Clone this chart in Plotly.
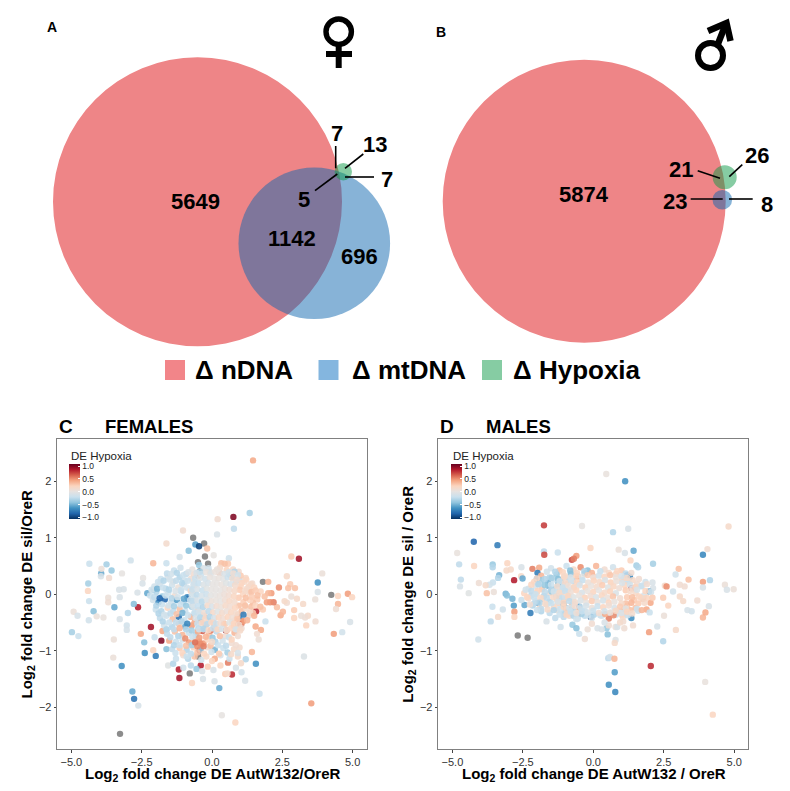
import plotly.graph_objects as go

W, H = 790, 791
FONT = "Liberation Sans"

# ---------- Venn counts ----------
female_counts = ["5649", "1142", "696", "7", "13", "7", "5"]
male_counts = ["5874", "21", "26", "23", "8"]
legend_labels = ["Δ nDNA", "Δ mtDNA", "Δ Hypoxia"]

# ---------- Panel C ----------
fem_out_x = [1.46,1.34,.76,.78,.2,.18,-1.03,-1.62,-.59,-.46,-.17,-.83,-1.15,.06,.6,-2.09,-1.62,-.46,.33,.57,
 .45,.75,.27,-2.89,-4.36,-3.75,-3.57,-3.94,-3.93,-3.95,-3.66,-3.2,-4.4,-4.41,-4.37,-4.21,-4.92,-4.78,-4.38,-4.1,
 -3.86,-4.98,-4.75,-3.69,-3.69,-3.47,-3.28,-3.3,-3.14,-3.28,-3.03,-3.03,-2.99,-3.49,-3.51,-3.21,-2.83,-2.77,-2.62,-2.63,
 -2.78,-2.65,-2.45,-2.47,-2.3,-2.08,-2.53,-2.41,-2.39,-2.0,-2.09,-2.17,-1.8,-1.76,-2.04,-1.62,-1.56,-1.38,-1.18,-1.16,
 -.71,-.32,-.4,-.44,-.38,-.46,-.3,.26,.09,.35,.83,1.69,1.18,1.56,1.2,.71,.47,.57,1.03,1.42,
 .5,1.04,1.08,1.55,1.74,1.6,1.66,1.9,1.57,.95,3.53,3.27,4.33,4.63,4.91,3.35,3.68,3.41,3.31,3.17,
 2.92,2.92,2.44,2.52,2.31,2.66,2.82,3.02,3.24,3.67,3.76,3.76,3.92,4.48,4.48,4.41,4.83,4.98,2.82,3.09,
 2.66,2.78,2.71,2.95,2.38,2.0,2.11,2.0,2.19,2.07,1.95,1.87,1.73,1.61,1.46,1.31,1.43,1.2,1.81,1.46,
 1.28,1.16,2.58]
fem_out_y = [2.37,1.44,1.37,1.16,1.33,1.06,1.13,.9,.88,.85,.81,.77,.66,.69,.64,.55,.55,.52,.55,.54,
 .54,.44,.38,.6,.54,.53,.42,.37,.45,.32,.29,.37,.19,.06,-.12,-.3,-.31,-.38,-.46,-.39,
 -.41,-.67,-.74,-.06,-.14,-.23,-.05,.08,.09,-.44,-.55,-.63,-.33,-.8,-1.12,-1.27,-1.72,-1.85,-1.97,-.23,
 -.17,.03,.29,.19,.02,.08,-.7,-.85,-1.04,-1.09,-.99,-.58,-.82,-.65,-.76,-.97,-1.26,-1.23,-1.33,-1.48,
 -1.57,-1.5,-1.26,-.99,-.88,-.84,-.87,-1.66,-1.54,-2.14,-2.27,-1.76,-1.53,-1.23,-1.15,-1.42,-1.41,-1.21,-1.22,-1.02,
 -.64,-.53,-.47,-.57,-.63,-.7,-.8,-.48,-.3,-.4,-1.93,-1.1,-.7,-.67,-.49,-.55,-.48,-.38,-.41,-.38,
 -.42,-.28,-.37,-.31,-.23,-.15,-.04,-.08,-.17,-.09,.04,.21,.37,-.03,-.17,-.26,.01,-.05,.67,.63,
 .32,.18,.11,.11,.12,.22,.02,.02,-.14,-.14,-.14,-.04,.05,-.09,-.15,.14,.19,.29,-.27,-.33,
 -.39,-.21,-.12]
fem_out_c = [.4,-.35,1.0,-.25,.1,-.1,.1,.12,-.6,-1.0,.3,-.45,-.12,.0,-.15,.35,-.2,-.4,.3,.25,
 .3,.15,.5,-.15,-.2,-.35,-.4,-.55,.05,-.1,.1,.0,-.35,.2,-.2,-.45,.05,-.12,-.15,.03,
 .02,-.35,-.2,.05,.08,-.55,-.1,-.1,-.1,-.1,-.15,-.12,-.3,.05,.05,-.65,-.55,-.8,-.12,.85,
 -.45,-.1,.0,-.1,-.55,-.5,.4,-.45,-.65,-.75,.2,.9,1.0,.4,-.2,-.45,-.05,-.3,.85,.9,
 .2,-.1,.85,1.0,.45,.45,.45,-.55,-.1,.0,.2,-.2,-.1,-.65,-.3,.8,.25,.55,.15,.35,
 1.0,.6,.5,.4,.4,.1,.05,-.2,.8,-.7,.45,-.08,.45,-.15,-.1,.2,.1,.15,.08,.05,
 .2,.25,.4,.35,.3,.1,.05,.15,.15,.05,-.1,-.65,.05,.2,.35,.08,.45,.2,.25,.9,
 .15,.25,.3,.3,.5,.35,.45,.35,.55,.5,.45,.3,.2,.25,.3,.2,.1,.15,.25,.25,
 .1,.15,.15]

fem_mid_x = [-1.35,-1.12,-.92,-.7,-.52,-.3,-.08,.28,.62,.95,
 -1.82,-1.58,-1.38,-1.15,-.96,-.74,-.5,.7,.98,1.15,
 -2.05,-1.86,-1.64,-1.42,-1.2,-1.0,-.8,-.62,1.02,1.24,
 -2.2,-1.98,-1.77,-1.55,-1.33,-1.1,-.88,-.68,1.1,1.33,
 -2.1,-1.9,-1.68,-1.45,-1.25,-1.02,-.85,-.62,1.12,1.35,
 -2.0,-1.8,-1.58,-1.38,-1.15,-.95,-.72,-.5,1.05,1.22,
 -1.85,-1.62,-1.4,-1.18,-.98,-.75,-.5,-.28,.88,1.1,
 -1.7,-1.42,-1.18,-.95,-.72,-.48,-.22,.08,.42,.78,
 -1.6,-1.32,-1.05,-.82,-.58,-.34,-.1,.16,.48,.8,
 -1.52,-1.28,-1.05,-.82,-.62,-.42,-.15,.12,.38,.7,
 -1.42,-1.15,-.9,-.65,-.4,-.15,.1,.4,.78,.98,
 -1.28,-1.02,-.85,-.62,-.38,-.2,.1,.3,.62,.92,
 -1.02,-.75,-.55,-.35,-.15,.05,.3,.55,.85,1.05,
 -1.6,-1.45,-1.25,-1.02,-.84,-.64,-.44,-.12,.18,.52,.8,1.02,
 -1.92,-1.72,-1.5,-1.28,-1.06,-.86,-.64,.85,1.05,1.22,1.38,1.5,
 -2.15,-1.95,-1.75,-1.53,-1.3,-1.1,-.9,-.75,.98,1.18,1.4,1.55,
 -2.05,-1.86,-1.65,-1.44,-1.22,-1.0,-.78,-.6,.95,1.2,1.42,1.62,
 -1.98,-1.78,-1.55,-1.35,-1.12,-.92,-.7,.95,1.18,1.4,1.55,1.72,
 -1.9,-1.7,-1.48,-1.26,-1.05,-.85,-.62,.92,1.12,1.35,1.5,-.4,
 -1.75,-1.52,-1.28,-1.08,-.88,-.62,-.38,-.12,.05,.72,.95,1.25,
 -1.6,-1.35,-1.15,-.92,-.72,-.5,-.3,-.05,.25,.52,.88,1.05,
 -1.48,-1.2,-.95,-.7,-.45,-.22,.02,.28,.6,.7,.92,-1.62,
 -1.35,-1.15,-.92,-.72,-.52,-.3,-.05,.22,.5,.85,-.6,.0,
 -1.3,-1.05,-.75,-.52,-.28,-.02,.25,.55,.68,.92,-.9,.0]
fem_mid_y = [.42,.47,.36,.44,.38,.46,.4,.47,.35,.4,
 .27,.3,.22,.3,.24,.28,.33,.3,.26,.22,
 .14,.18,.1,.16,.12,.18,.1,.16,.14,.1,
 -.02,.04,-.04,.03,-.03,.05,-.05,.02,.0,.03,
 -.1,-.14,-.09,-.15,-.1,-.14,-.08,-.12,-.14,-.1,
 -.27,-.3,-.24,-.3,-.26,-.3,-.22,-.28,-.3,-.25,
 -.42,-.38,-.44,-.4,-.46,-.4,-.45,-.38,-.42,-.48,
 -.55,-.58,-.52,-.57,-.55,-.6,-.54,-.58,-.52,-.56,
 -.7,-.66,-.72,-.68,-.72,-.65,-.7,-.66,-.74,-.68,
 -.82,-.84,-.8,-.85,-.82,-.87,-.8,-.84,-.82,-.86,
 -.97,-.95,-.98,-.94,-.98,-.94,-.98,-.95,-.97,-.94,
 -1.14,-1.08,-1.14,-1.1,-1.16,-1.1,-1.14,-1.08,-1.14,-1.1,
 -1.3,-1.26,-1.32,-1.36,-1.28,-1.34,-1.26,-1.4,-1.3,-1.38,
 .37,.36,.38,.34,.39,.35,.4,.46,.44,.43,.4,.33,
 .22,.24,.26,.24,.2,.24,.22,.22,.2,.26,.18,.12,
 .08,.1,.12,.08,.06,.08,.12,.06,.08,.06,.04,.07,
 -.05,-.07,-.02,-.07,-.05,-.08,-.1,-.06,-.06,-.06,-.05,-.02,
 -.2,-.18,-.2,-.21,-.18,-.2,-.18,-.2,-.2,-.22,-.2,-.22,
 -.34,-.36,-.34,-.35,-.33,-.37,-.34,-.36,-.36,-.33,-.38,-.36,
 -.48,-.5,-.5,-.48,-.52,-.5,-.49,-.47,-.5,-.48,-.52,-.46,
 -.62,-.62,-.6,-.62,-.64,-.66,-.62,-.64,-.62,-.64,-.62,-.6,
 -.76,-.74,-.78,-.75,-.77,-.75,-.77,-.74,-.76,-.8,-.74,-.62,
 -.9,-.9,-.91,-.9,-.92,-.92,-.91,-.9,-.91,-.9,-.85,-.84,
 -1.04,-1.04,-1.05,-1.03,-1.05,-1.02,-1.05,-1.03,-1.06,-1.04,-1.1,-1.18]
fem_mid_c = [-.2,-.15,-.25,.02,-.3,-.1,.05,.15,-.35,.1,
 -.2,-.12,.05,-.3,-.18,.1,.45,-.4,-.2,.15,
 -.15,-.1,-.3,-.15,.05,-.25,-.12,.1,.2,.12,
 -.2,-.3,-.4,-.15,.1,-.25,-.7,.05,.2,.15,
 -.15,-.7,-.85,-.2,-.6,-.3,-.8,-.15,.25,.2,
 -.2,-.3,.2,-.25,.3,-.2,-.35,.25,.3,.15,
 -.25,-.15,.3,-.8,-.2,.35,-.3,.3,.4,.45,
 -.15,-.3,.25,-.55,.45,-.35,.35,.3,.4,.2,
 -.25,.3,.35,-.2,-.3,.65,.3,-.25,.1,.35,
 .4,-.2,-.15,.45,.3,.5,.2,-.3,-.15,.1,
 -.25,.25,-.3,.2,-.4,.1,-.5,-.2,.15,.12,
 -.2,.1,-.3,.3,-.15,.15,.4,-.1,-.2,.15,
 -.15,-.25,-.4,-.1,.25,-.1,.2,.15,-.1,-.15,
 -.25,-.15,-.3,-.2,-.1,.1,-.35,-.15,.05,.2,-.3,.25,
 -.2,-.3,-.15,-.25,-.3,-.2,.05,-.2,.2,.2,.15,.2,
 -.15,-.5,-.2,-.3,-.1,-.2,-.15,.2,.25,.15,.3,.25,
 -.25,-.85,-.2,-.3,-.15,-.55,-.2,-.1,.25,.3,.25,.3,
 -.3,-.2,-.15,-.35,-.2,-.4,-.1,.3,.3,.3,.2,.3,
 -.3,-.15,-.25,.3,-.5,-.2,-.3,.3,-.75,.15,.35,-.2,
 -.3,-.2,-.25,-.3,-.7,.4,.45,-.25,.35,.2,.6,.35,
 -.2,-.25,.35,-.3,-.35,.4,-.2,.55,-.15,.3,-.15,.1,
 -.25,-.3,.5,-.2,.45,.35,-.4,.3,-.2,.2,.1,-.3,
 -.3,-.2,.3,-.35,.5,.55,.3,-.2,-.25,.1,.6,.15,
 -.2,.2,-.25,.3,.2,-.15,.25,-.35,.15,-.12,-.2,.2]

fem_core_x = [-.55,-.38,-.2,-.04,.12,.28,.44,.6,.76,.92,
 -.6,-.42,-.24,-.08,.08,.24,.4,.56,.72,.88,
 -.66,-.48,-.3,-.14,.02,.18,.34,.5,.66,.82,
 -.7,-.52,-.34,-.18,-.02,.14,.3,.46,.62,.8,
 -.72,-.54,-.36,-.2,-.04,.12,.28,.44,.6,.78,
 -.7,-.52,-.36,-.18,-.02,.14,.3,.46,.62,.8,
 -.66,-.5,-.32,-.16,.0,.16,.32,.48,.64,.82,
 -.62,-.46,-.28,-.12,.04,.2,.36,.52,.68,.86,
 -.58,-.42,-.24,-.08,.08,.24,.4,.56,.72,.9,
 -.52,-.36,-.18,-.02,.14,.3,.46,.62,.78,.96,
 -.46,-.3,-.12,.04,.2,.36,.52,.68,.84,1.0]
fem_core_y = [.38,.36,.39,.37,.4,.38,.36,.39,.37,.34,
 .28,.29,.27,.3,.28,.29,.27,.3,.28,.26,
 .18,.19,.17,.2,.18,.19,.17,.2,.18,.16,
 .08,.09,.07,.1,.08,.09,.07,.1,.08,.06,
 -.02,-.01,-.03,.0,-.02,-.01,-.03,.0,-.02,-.04,
 -.12,-.11,-.13,-.1,-.12,-.11,-.13,-.1,-.12,-.14,
 -.22,-.21,-.23,-.2,-.22,-.21,-.23,-.2,-.22,-.24,
 -.32,-.31,-.33,-.3,-.32,-.31,-.33,-.3,-.32,-.34,
 -.42,-.41,-.43,-.4,-.42,-.41,-.43,-.4,-.42,-.44,
 -.52,-.51,-.53,-.5,-.52,-.51,-.53,-.5,-.52,-.54,
 -.62,-.61,-.63,-.6,-.62,-.61,-.63,-.6,-.62,-.64]
fem_core_c = [-.12,-.2,.02,-.08,.03,.02,-.1,-.15,.08,-.15,
 -.2,-.08,-.15,.02,.0,.02,-.03,-.18,.08,.1,
 -.18,-.22,-.08,-.12,.0,.0,.02,-.05,-.1,.12,
 -.22,-.1,-.2,-.05,.0,.0,.0,.03,.08,.15,
 -.15,-.25,-.12,-.18,-.02,.0,.02,.06,.1,.18,
 -.25,-.1,-.28,-.08,.05,.02,.0,.08,.16,.12,
 -.12,-.22,-.3,.12,-.1,.1,.04,.15,.1,.2,
 -.2,-.15,.08,-.25,.15,-.05,.12,.06,.18,.12,
 -.1,-.28,.15,-.3,-.12,.18,.1,.2,.08,.25,
 -.22,.12,-.25,.15,-.2,.1,.22,-.05,.2,.12,
 -.18,-.3,.15,-.22,.18,-.12,.12,.2,-.1,.15]

fem_na_x = [-.67,-.28,-.25,-.5,-.14,-.43,-3.27,-.79,-.49,1.81,4.24]
fem_na_y = [1.0,.9,.67,.57,.54,.41,-2.47,-1.4,-1.1,.22,-.01]

# ---------- Panel D ----------
mal_out_x = [.46,1.13,-1.75,-.4,1.24,.7,4.8,-4.24,-3.4,-4.83,-1.75,-1.26,-1.74,-.1,.9,1.12,1.43,4.05,3.89,-.76,
 -.6,-.69,-4.76,-4.23,-3.57,-3.57,-3.05,-3.08,-2.93,-2.55,-2.16,-1.92,-1.98,-2.0,-3.34,-3.38,-3.56,-3.68,-4.7,-4.73,
 -4.06,-3.82,-4.42,-3.78,-3.53,-3.11,-3.06,-2.81,-2.56,-2.51,-2.87,-2.82,-2.8,-2.8,-2.44,-2.23,-1.98,-3.58,-3.21,-3.38,
 -3.64,-4.08,-1.66,-.3,-1.16,-.74,-.6,-.9,-.09,.47,.51,.79,.79,.76,.53,.59,.75,.76,.55,.78,
 2.04,1.98,2.27,2.48,2.93,2.51,3.97,4.24,3.89,3.98,4.1,3.49,3.34,4.14,3.89,3.89,4.67,4.74,4.98,3.69,
 3.38,3.03,2.92,3.07,3.24,2.83,2.54,2.6,2.12,1.98,2.1,2.12,1.53,1.59,1.2,1.3,1.32,1.35,2.03,1.89,
 2.0,1.77,2.48,2.66,3.07,3.19,1.59,1.35,1.06,1.41]
mal_out_y = [2.13,2.0,1.22,1.21,1.16,1.1,1.2,.93,.87,.73,.76,.74,.7,.82,.79,.73,.77,.8,.7,.61,
 .68,.63,.53,.5,.53,.48,.55,.42,.44,.48,.45,.47,.38,.27,.34,.29,.21,.17,.26,.14,
 .2,.16,.02,.02,.04,.01,-.02,.25,.32,.28,-.08,-.2,-.31,-.4,-.19,-.33,-.15,-.22,-.27,-.4,
 -.48,-.8,-.48,-.79,-.58,-.54,-.6,-.34,-.4,-.6,-.71,-.58,-.81,-.86,-1.13,-1.11,-1.14,-1.38,-1.6,-1.73,
 -1.27,-.67,-.57,-.83,-.63,-.38,-1.55,-2.13,-.41,-.32,-.21,-.3,-.28,.25,.22,.12,.17,.08,.09,-.11,
 .26,.45,.35,.17,.14,.05,.15,.14,.11,.05,.21,.54,.51,.48,.34,.31,.6,.11,-.15,-.27,
 -.32,-.08,-.06,-.2,-.04,-.12,-.29,-.42,-.48,-.55]
mal_out_c = [.02,-.65,.75,.0,-.1,-.3,.15,-.85,-.75,.02,-.25,-.2,.7,.2,.05,-.1,-.55,.1,-.7,.7,
 .45,.55,-.25,.2,-.4,-.3,.2,.15,.15,-.1,.55,.4,-.75,-.75,-.5,-.3,-.2,-.15,-.25,-.1,
 .08,.15,-.05,.3,.05,-.5,-.45,.85,.15,-.55,-.5,-.6,.45,.2,-.55,-.75,-.65,-.2,-.15,.15,
 -.25,-.15,-.1,.08,-.15,-.4,-.45,.4,-.95,-.4,-.45,.05,-.08,.15,-.25,-.15,.35,-.6,-.65,-.7,
 .8,.45,-.12,-.3,.15,.05,.02,.2,.35,.4,-.1,-.15,-.12,-.3,.45,-.1,.05,-.1,.05,.1,
 .3,.3,-.15,.1,.1,-.15,.15,.5,-.1,-.55,-.1,-.35,-.35,-.3,-.8,-.7,.2,.9,.4,.4,
 -.2,.4,.25,.2,.15,.15,-.2,-.65,.1,.1]

mal_mid_x = [-1.5,-1.2,-.95,-.7,-.45,-.2,.1,.4,.7,1.0,
 -1.85,-1.55,-1.3,-1.05,-.8,-.55,-.3,.0,.8,1.1,
 -2.1,-1.85,-1.6,-1.4,-1.15,-.95,-.72,-.5,1.25,1.55,
 -2.3,-2.05,-1.82,-1.6,-1.35,-1.15,-.9,-.7,1.4,1.7,
 -2.45,-2.2,-2.0,-1.75,-1.55,-1.32,-1.1,-.88,1.5,1.8,
 -2.55,-2.3,-2.05,-1.8,-1.55,-1.3,-1.05,-.85,1.45,1.7,
 -2.15,-1.9,-1.65,-1.4,-1.2,-.98,-.75,-.5,1.2,1.5,
 -1.85,-1.55,-1.3,-1.05,-.8,-.55,-.3,.6,.9,1.2,
 -1.35,-1.05,-.85,-.55,-.3,-.05,.25,.55,.8,1.05,
 -.2,.15,.3,.55,.85,1.1,-.5,-.05,.4,.95,
 -1.35,-1.08,-.82,-.58,-.32,-.05,.25,.55,.85,1.15,-1.65,1.35,
 -2.0,-1.72,-1.48,-1.25,-1.02,1.2,1.4,1.62,1.85,-1.92,-.85,1.02,
 -2.2,-1.95,-1.72,-1.5,-1.25,-1.05,1.12,1.3,1.5,1.72,1.9,-2.4,
 -2.2,-1.98,-1.72,-1.48,-1.22,-1.5,1.15,1.3,1.55,1.85,2.05,-2.05,
 -2.35,-2.1,-1.88,-1.65,-1.42,-1.2,1.2,1.38,1.62,1.9,2.1,-.98,
 -2.1,-1.9,-1.7,-1.48,-1.25,-1.05,1.15,1.35,1.6,1.82,-.7,-2.25,
 -1.85,-1.62,-1.4,-1.18,-.95,-.72,-.5,1.1,1.32,1.55,1.72,-2.0,
 -1.2,-.95,-.7,-.42,-.18,.02,.3,.42,.72,1.02,1.22,-.6]
mal_mid_y = [.46,.42,.5,.44,.48,.42,.5,.44,.48,.42,
 .33,.3,.35,.3,.36,.31,.37,.32,.36,.3,
 .22,.25,.2,.26,.22,.18,.24,.19,.22,.18,
 .1,.14,.09,.15,.1,.14,.08,.12,.1,.14,
 .02,-.02,.03,-.03,.02,-.02,.03,-.03,.02,-.02,
 -.1,-.07,-.12,-.08,-.13,-.09,-.12,-.07,-.1,-.06,
 -.2,-.24,-.18,-.23,-.18,-.24,-.19,-.22,-.2,-.24,
 -.3,-.33,-.28,-.34,-.3,-.35,-.3,-.33,-.29,-.34,
 -.42,-.4,-.38,-.43,-.38,-.42,-.37,-.43,-.36,-.4,
 -.62,-.6,-.62,-.55,-.58,-.6,-.7,-.52,-.5,-.5,
 .4,.39,.42,.38,.41,.38,.41,.38,.41,.37,.4,.38,
 .28,.27,.29,.27,.3,.24,.25,.27,.22,.18,.26,.26,
 .17,.18,.16,.17,.18,.14,.16,.17,.13,.15,.18,.08,
 .06,.06,.04,.05,.07,.08,.07,.06,.08,.06,.04,.0,
 -.05,-.05,-.06,-.06,-.05,-.06,-.05,-.05,-.04,-.06,-.06,-.07,
 -.16,-.15,-.17,-.16,-.15,-.17,-.16,-.15,-.16,-.15,-.16,-.18,
 -.26,-.27,-.28,-.27,-.26,-.28,-.26,-.26,-.28,-.26,-.28,-.28,
 -.36,-.36,-.38,-.35,-.37,-.36,-.38,-.35,-.37,-.36,-.37,-.44]
mal_mid_c = [-.15,.3,-.2,.15,.5,-.45,.35,.1,-.15,.25,
 .35,-.3,-.4,.15,-.45,.4,-.5,.2,.15,-.25,
 .2,-.4,-.5,-.2,-.45,.3,-.3,.2,-.15,.1,
 -.15,-.1,.25,-.5,-.4,.2,-.15,-.1,.1,-.15,
 .2,-.25,.1,-.3,.1,-.35,.2,-.15,.15,-.1,
 -.2,.1,-.15,.2,-.3,.15,-.4,.1,.25,.15,
 -.3,.15,-.2,.2,-.1,-.5,.3,-.7,.25,.3,
 -.3,-.25,.1,-.3,-.15,.4,-.2,-.15,-.2,.2,
 -.25,-.25,.15,-.2,-.25,-.15,-.2,.55,-.2,.15,
 .05,-.1,-.1,.1,-.12,.08,-.2,.1,-.1,.12,
 -.3,.2,-.45,.2,-.3,.35,-.2,.15,.2,-.25,-.15,.1,
 .15,-.3,-.35,-.45,.2,-.2,.15,.1,-.15,-.25,-.25,.2,
 .2,-.3,-.4,-.2,-.45,-.15,.2,-.15,.2,-.2,.1,-.15,
 -.25,.2,-.25,-.4,-.15,-.3,.25,.15,-.1,.2,-.15,-.2,
 .2,-.2,.15,-.25,.15,-.4,.25,.3,.2,.2,.25,.15,
 -.25,-.3,.15,-.2,.2,-.45,.3,.35,.25,.15,-.2,.1,
 -.25,.15,-.3,-.2,.2,-.3,.3,.35,.3,-.2,.35,-.2,
 -.2,.2,-.3,-.35,-.2,-.3,-.15,.4,.5,.2,-.2,-.15]

mal_core_x = [-1.0,-.8,-.6,-.4,-.2,.0,.2,.4,.6,.8,1.0,1.2,
 -1.2,-1.0,-.78,-.58,-.38,-.18,.02,.22,.42,.62,.82,1.02,
 -1.28,-1.08,-.88,-.68,-.48,-.28,-.08,.12,.32,.52,.72,.92,
 -1.4,-1.2,-1.0,-.8,-.6,-.4,-.2,.0,.2,.4,.6,.8,
 -1.3,-1.1,-.9,-.7,-.5,-.3,-.1,.1,.3,.5,.7,.95,
 -1.25,-1.05,-.85,-.65,-.45,-.25,-.05,.15,.35,.55,.75,1.0,
 -1.05,-.85,-.65,-.45,-.25,-.05,.15,.35,.55,.75,.95,1.15,
 -.8,-.6,-.4,-.2,.0,.2,.4,.6,.8,1.0,1.2,1.38]
mal_core_y = [.32,.3,.33,.31,.34,.3,.33,.31,.34,.3,.32,.29,
 .23,.21,.24,.22,.25,.21,.24,.22,.25,.21,.23,.2,
 .14,.12,.15,.13,.16,.12,.15,.13,.16,.12,.14,.11,
 .05,.03,.06,.04,.07,.03,.06,.04,.07,.03,.05,.02,
 -.04,-.06,-.03,-.05,-.02,-.06,-.03,-.05,-.02,-.06,-.04,-.07,
 -.13,-.15,-.12,-.14,-.11,-.15,-.12,-.14,-.11,-.15,-.13,-.16,
 -.22,-.24,-.21,-.23,-.2,-.24,-.21,-.23,-.2,-.24,-.22,-.25,
 -.31,-.33,-.3,-.32,-.29,-.33,-.3,-.32,-.29,-.33,-.31,-.34]
mal_core_c = [.15,-.1,.22,-.05,.25,.08,-.15,.2,.28,.05,-.12,.15,
 -.18,.12,-.1,.2,-.22,.05,.2,.15,-.08,.22,.05,-.1,
 .1,-.2,.05,.18,-.12,.22,.02,.12,.25,-.05,.18,.08,
 -.15,.15,-.22,.08,.2,-.1,.02,.2,.0,.15,.22,-.08,
 .12,-.18,.18,-.05,.02,.22,.1,-.08,.18,.05,.28,.1,
 -.1,.2,-.25,.12,-.08,.02,.25,.05,-.12,.2,.02,.15,
 .18,-.15,.1,-.2,-.12,.05,-.2,.2,.08,-.1,.25,-.05,
 -.2,.05,-.22,-.12,-.2,.1,-.15,.05,.18,-.1,.2,.12]

mal_na_x = [-2.68,-2.33,-.8]
mal_na_y = [-.73,-.77,-.27]

assert len(fem_out_x) == len(fem_out_y) == len(fem_out_c), (len(fem_out_x), len(fem_out_y), len(fem_out_c))
assert len(fem_mid_x) == len(fem_mid_y) == len(fem_mid_c), (len(fem_mid_x), len(fem_mid_y), len(fem_mid_c))
assert len(fem_core_x) == len(fem_core_y) == len(fem_core_c)
assert len(mal_out_x) == len(mal_out_y) == len(mal_out_c), (len(mal_out_x), len(mal_out_y), len(mal_out_c))
assert len(mal_mid_x) == len(mal_mid_y) == len(mal_mid_c), (len(mal_mid_x), len(mal_mid_y), len(mal_mid_c))
assert len(mal_core_x) == len(mal_core_y) == len(mal_core_c)

x_ticks = [-5, -2.5, 0, 2.5, 5]
y_ticks = [-2, -1, 0, 1, 2]
cbar_ticks = [-1, -.5, 0, .5, 1]

RDBU = [[0, "#053061"], [.1, "#2166AC"], [.2, "#4393C3"], [.3, "#92C5DE"], [.4, "#C9E0EE"],
        [.5, "#E6E2E0"], [.6, "#FBD5BF"], [.7, "#F4A582"], [.8, "#D6604D"], [.9, "#B2182B"], [1, "#67001F"]]


def px(x):
    return x / W


def py(y):
    return 1 - y / H


fig = go.Figure()
MARKER = 6.4


def scatter_panel(xs, ys, cs, na_x, na_y, xa, ya, bar_x):
    fig.add_trace(go.Scatter(
        x=na_x, y=na_y, mode="markers", xaxis=xa, yaxis=ya, showlegend=False,
        marker=dict(size=MARKER, color="#7f7f7f", opacity=.9)))
    fig.add_trace(go.Scatter(
        x=xs, y=ys, mode="markers", xaxis=xa, yaxis=ya, showlegend=False,
        marker=dict(size=MARKER, color=cs, colorscale=RDBU, cmin=-1.07, cmax=1.07, opacity=.88,
                    colorbar=dict(
                        x=px(bar_x), xanchor="left", xpad=0, y=py(491.8), yanchor="middle", ypad=0,
                        len=55, lenmode="pixels", thickness=11, thicknessmode="pixels",
                        outlinewidth=0, tickvals=cbar_ticks, ticktext=["−1.0", "−0.5", "0.0", "0.5", "1.0"],
                        ticks="inside", ticklen=2, tickcolor="white",
                        tickfont=dict(size=8.5, family=FONT, color="#222")))))


scatter_panel(fem_out_x + fem_mid_x + fem_core_x, fem_out_y + fem_mid_y + fem_core_y,
              fem_out_c + fem_mid_c + fem_core_c, fem_na_x, fem_na_y, "x", "y", 69.3)
scatter_panel(mal_out_x + mal_mid_x + mal_core_x, mal_out_y + mal_mid_y + mal_core_y,
              mal_out_c + mal_mid_c + mal_core_c, mal_na_x, mal_na_y, "x2", "y2", 450.5)


def axis(domain, anchor, vals, fmt, rng, title=None, standoff=0):
    d = dict(domain=domain, anchor=anchor, range=rng,
             tickvals=vals, tickformat=fmt, ticks="outside", ticklen=2.5, tickcolor="#444", tickwidth=1,
             showgrid=False, zeroline=False, showline=True, mirror=True, linecolor="#808080", linewidth=1.3,
             tickfont=dict(size=11, family=FONT, color="#333"))
    if title:
        d["title"] = dict(text=title, standoff=standoff, font=dict(size=15, family=FONT, color="black"))
    return d


shapes = []
annotations = []


def circle(cx, cy, r, color, opacity=1.0):
    shapes.append(dict(type="circle", xref="paper", yref="paper", x0=px(cx - r), x1=px(cx + r),
                       y0=py(cy + r), y1=py(cy - r), fillcolor=color, opacity=opacity, line_width=0))


def stroke(x0, y0, x1, y1, w=1.6):
    shapes.append(dict(type="line", xref="paper", yref="paper", x0=px(x0), y0=py(y0), x1=px(x1), y1=py(y1),
                       line=dict(color="black", width=w)))


def label(x, y, text, size=22, anchor="center", color="black", bold=True):
    annotations.append(dict(xref="paper", yref="paper", x=px(x), y=py(y), text=f"<b>{text}</b>" if bold else text,
                            showarrow=False, xanchor=anchor, yanchor="middle",
                            font=dict(size=size, family=FONT, color=color)))


RED, BLUE, GREEN = "rgb(238,133,135)", "rgb(15,103,175)", "rgb(13,153,71)"

# Venn A
circle(197.5, 201.7, 144.5, RED)
circle(314.3, 243.3, 75.8, BLUE, .5)
circle(343.3, 171.7, 8.7, GREEN, .5)
# Venn B
circle(584.2, 201.3, 141.5, RED)
circle(724.7, 177.3, 12, GREEN, .5)
circle(722.3, 199.7, 9.8, BLUE, .5)

for x, y, t in zip([195, 291.7, 359.3, 337, 375, 386.7, 304.3],
                   [201, 238, 256, 133, 144.3, 179, 200], female_counts):
    label(x, y, t)
for x, y, t in zip([584.3, 681.3, 757.3, 675.3, 767],
                   [194, 169.7, 155.3, 201.3, 204], male_counts):
    label(x, y, t)

stroke(335.7, 146, 335.7, 168.3)
stroke(363.3, 154, 345, 168.3)
stroke(374, 177, 345, 177)
stroke(315, 190.7, 337.3, 174)
stroke(697.7, 170.7, 720, 178.3)
stroke(742.3, 164.7, 729.3, 176.7)
stroke(690.7, 199, 722.7, 199)
stroke(729, 199, 752.7, 199)

# Female symbol
shapes.append(dict(type="circle", xref="paper", yref="paper", x0=px(326), x1=px(351.4), y0=py(44.4), y1=py(19),
                   line=dict(color="black", width=5.4), fillcolor="rgba(0,0,0,0)"))
stroke(338.7, 44, 338.7, 68, 6)
stroke(326, 54, 352, 54, 6)
# Male symbol
shapes.append(dict(type="circle", xref="paper", yref="paper", x0=px(698), x1=px(723), y0=py(68), y1=py(43),
                   line=dict(color="black", width=6), fillcolor="rgba(0,0,0,0)"))
stroke(717.5, 45, 725, 26, 6.5)
shapes.append(dict(type="path", xref="paper", yref="paper",
                   path=f"M {px(708)} {py(31)} L {px(726.5)} {py(23)} L {px(730.5)} {py(41)}",
                   line=dict(color="black", width=6.5), fillcolor="rgba(0,0,0,0)"))

# Row legend
for (sx, color), tx, t in zip([(165, "#F28589"), (318.5, "#84B6DF"), (482, "#86CCA3")],
                              [193, 350, 510.5], legend_labels):
    shapes.append(dict(type="rect", xref="paper", yref="paper", x0=px(sx), x1=px(sx + 20), y0=py(380), y1=py(360),
                       fillcolor=color, line_width=0))
    label(tx, 370, t, size=26, anchor="left")

label(52, 27, "A", size=14)
label(441.3, 32.3, "B", size=14)
label(56.5, 426.7, "C", size=19, anchor="left")
label(103, 426.7, "FEMALES", size=18.5, anchor="left")
label(438.5, 426.7, "D", size=19, anchor="left")
label(484.3, 426.7, "MALES", size=18.5, anchor="left")
label(69.3, 456, "DE Hypoxia", size=11.5, anchor="left", bold=False, color="#222")
label(450.5, 456, "DE Hypoxia", size=11.5, anchor="left", bold=False, color="#222")
label(212, 774, "Log<sub>2</sub> fold change DE AutW132/OreR", size=15)
label(593.7, 774, "Log<sub>2</sub> fold change DE AutW132 / OreR", size=15)

XD1 = [px(57.3), px(366.7)]
XD2 = [px(438.3), px(748.3)]
YD = [py(749.3), py(439.3)]
XR = [-5.5, 5.5]
YR = [-2.743, 2.743]

fig.update_layout(
    width=W, height=H, margin=dict(l=0, r=0, t=0, b=0), autosize=False,
    paper_bgcolor="white", plot_bgcolor="white",
    font=dict(family=FONT),
    shapes=shapes, annotations=annotations,
    xaxis=axis(XD1, "y", x_ticks, ".1f", XR),
    yaxis=axis(YD, "x", y_ticks, "d", YR, "<b>Log<sub>2</sub> fold change DE sil/OreR</b>", 2),
    xaxis2=axis(XD2, "y2", x_ticks, ".1f", XR),
    yaxis2=axis(YD, "x2", y_ticks, "d", YR, "<b>Log<sub>2</sub> fold change DE sil / OreR</b>", 2),
)

fig.write_html("out.html", config=dict(displayModeBar=False),
               post_script="document.body.style.margin='0';")
